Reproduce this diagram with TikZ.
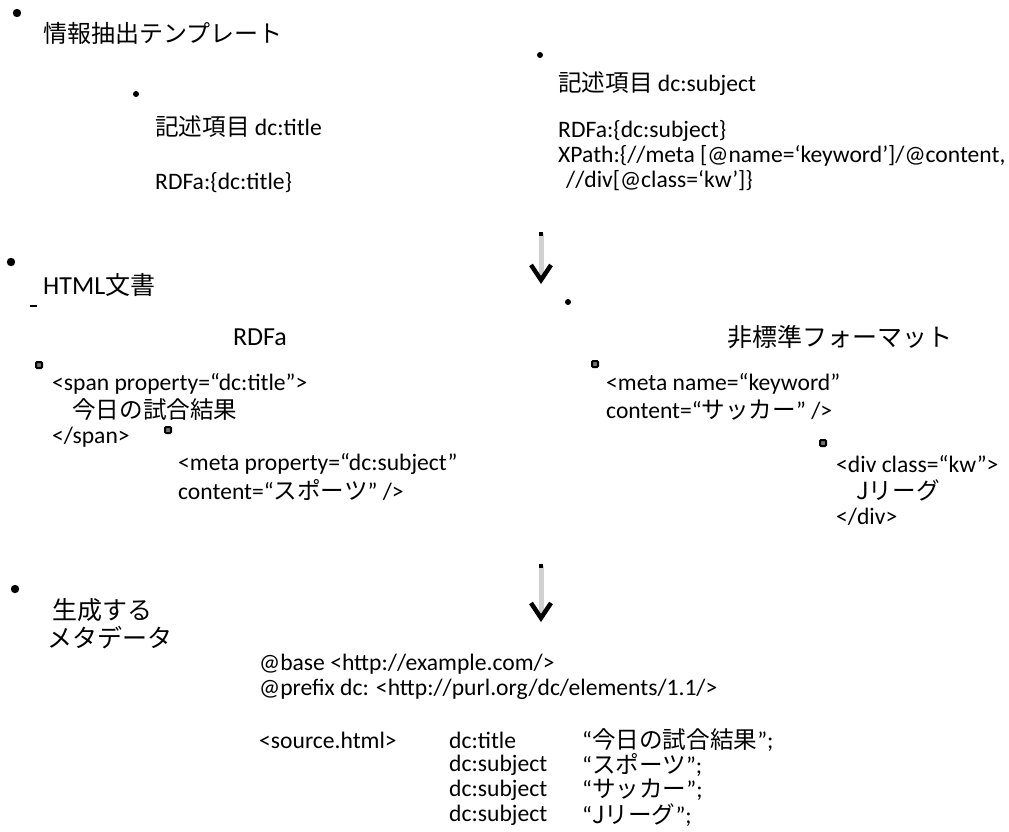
\documentclass[tikz,border=0pt]{standalone}
\usepackage{fontspec}
\setmainfont{Carlito}
\newfontfamily\jp{Noto Sans CJK JP}
\newcommand\hjp[1]{{\jp\fontsize{25}{28}\selectfont #1}}
\usetikzlibrary{arrows.meta,calc}
\begin{document}
\begin{tikzpicture}[x=1pt,y=-1pt,
  txt/.style={anchor=west, inner sep=0pt, font=\fontsize{23.6}{26}\selectfont},
  head/.style={anchor=west, inner sep=0pt, font=\fontsize{26}{28}\selectfont},
  jhead/.style={anchor=west, inner sep=0pt, font=\jp\fontsize{25}{28}\selectfont},
  bdot/.style={fill=black},
  sqdot/.style={draw=black, fill=black!55, line width=2pt, rounded corners=1pt},
  flow/.style={draw=black!18, line width=5pt, -{Straight Barb[length=15pt, width=20pt, line width=4.5pt, color=black]}},
]
\useasboundingbox (0,0) rectangle (1009,831);
% --- template section
\coordinate (b1) at (17,13);
\fill[bdot] (b1) circle[radius=4.2pt];
\node[anchor=west, inner sep=0pt] (t1) at (43,33) {\jp\fontsize{24}{28}\selectfont 情報抽出テンプレート};
\coordinate (m1) at (136,94);
\fill[bdot] (m1) circle[radius=3pt];
\node[txt] (d1) at (155,127) {{\jp 記述項目} dc:title};
\node[txt] (d1r) at (155,183) {RDFa:\{dc:title\}};
\coordinate (m2) at (540,55);
\fill[bdot] (m2) circle[radius=3pt];
\node[txt] (d2) at (558,84) {{\jp 記述項目} dc:subject};
\node[txt] (d2a) at (558,131) {RDFa:\{dc:subject\}};
\node[txt] (d2b) at (558,156) {XPath:\{//meta [@name=‘keyword’]/@content,};
\node[txt] (d2c) at (566,181) {//div[@class=‘kw’]\}};
% arrow 1
\coordinate (a1s) at (541,234);
\coordinate (a1e) at (541,284);
\draw[flow] (a1s) -- (a1e);
\fill[bdot] ($(a1s)+(-2,-2)$) rectangle ++(4,4);
% --- HTML section
\coordinate (b2) at (11,262);
\fill[bdot] (b2) circle[radius=4.2pt];
\node[head] (t2) at (43,285) {HTML\hjp{文書}};
\draw[line width=1.5pt] (30,306) -- (37,306);
\coordinate (m3) at (568,302);
\fill[bdot] (m3) circle[radius=3pt];
\node[head, anchor=center] (h1) at (260,337) {RDFa};
\node[head, anchor=center] (h2) at (840,337) {\hjp{非標準フォーマット}};
\coordinate (s1) at (39,365);
\filldraw[sqdot] ($(s1)+(-3,-3)$) rectangle ++(6,6);
\node[txt] (r1) at (52,384) {<span property=“dc:title”>};
\node[txt] (r2) at (72,410) {\jp 今日の試合結果};
\node[txt] (r3) at (52,437) {</span>};
\coordinate (s2) at (168,430);
\filldraw[sqdot] ($(s2)+(-3,-3)$) rectangle ++(6,6);
\node[txt] (r4) at (178,464) {<meta property=“dc:subject”};
\node[txt] (r5) at (178,490) {content=“{\jp スポーツ}” />};
\coordinate (s3) at (595,364);
\filldraw[sqdot] ($(s3)+(-3,-3)$) rectangle ++(6,6);
\node[txt] (n1) at (606,384) {<meta name=“keyword”};
\node[txt] (n2) at (606,410) {content=“{\jp サッカー}” />};
\coordinate (s4) at (823,443);
\filldraw[sqdot] ($(s4)+(-3,-3)$) rectangle ++(6,6);
\node[txt] (n3) at (836,464) {<div class=“kw”>};
\node[txt] (n4) at (856,490) {\jp Jリーグ};
\node[txt] (n5) at (836,517) {</div>};
% arrow 2
\coordinate (a2s) at (541,566);
\coordinate (a2e) at (541,622);
\draw[flow] (a2s) -- (a2e);
\fill[bdot] ($(a2s)+(-2,-2)$) rectangle ++(4,4);
% --- generated metadata
\coordinate (b3) at (15,589);
\fill[bdot] (b3) circle[radius=4.2pt];
\node[jhead] (t3a) at (52,610) {生成する};
\node[jhead] (t3b) at (47,638) {メタデータ};
\node[txt] (g1) at (259,664) {@base <http://example.com/>};
\node[txt] (g2) at (259,689) {@prefix dc: <http://purl.org/dc/elements/1.1/>};
\node[txt] (g3) at (259,740) {<source.html>};
\node[txt] (p1) at (449,740) {dc:title};
\node[txt] (p2) at (449,765) {dc:subject};
\node[txt] (p3) at (449,790) {dc:subject};
\node[txt] (p4) at (449,815) {dc:subject};
\node[txt] (o1) at (582,740) {“{\jp 今日の試合結果}”;};
\node[txt] (o2) at (582,765) {“{\jp スポーツ}”;};
\node[txt] (o3) at (582,790) {“{\jp サッカー}”;};
\node[txt] (o4) at (582,815) {“{\jp Jリーグ}”;};
\end{tikzpicture}
\end{document}
